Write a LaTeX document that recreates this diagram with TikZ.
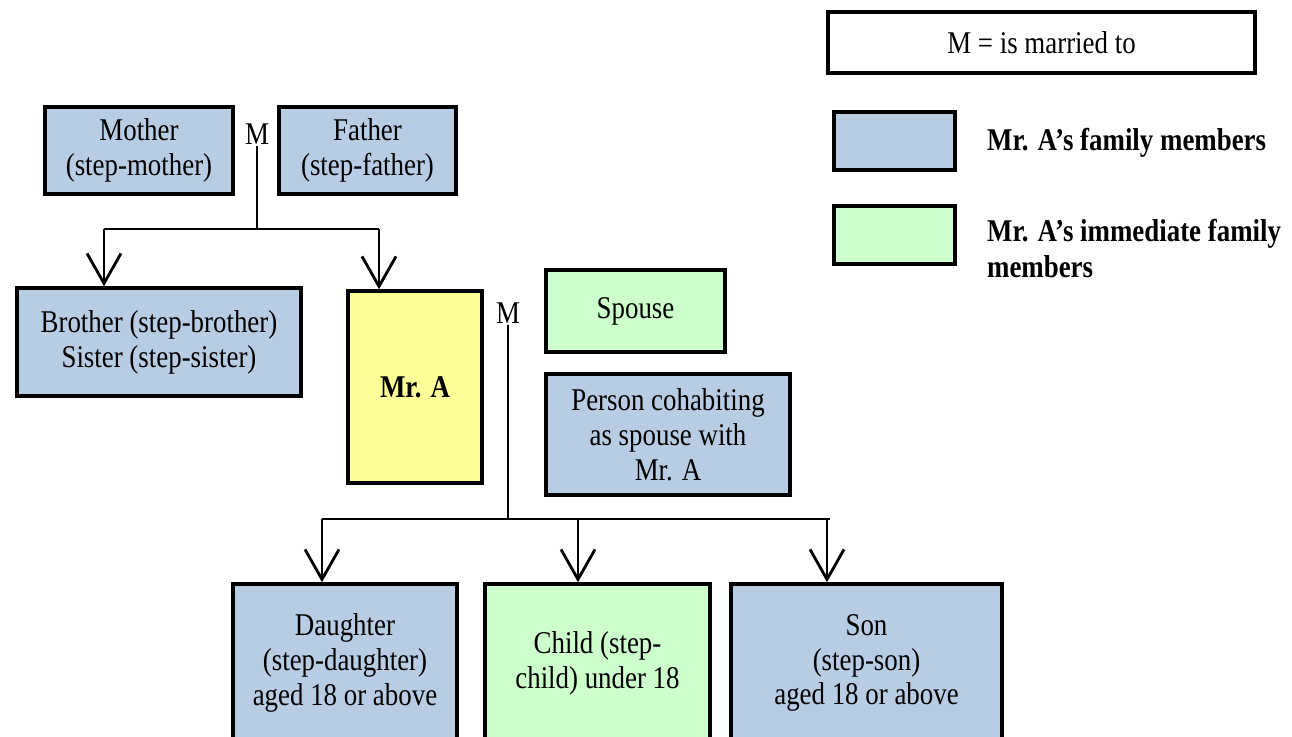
\documentclass[tikz,border=0pt]{standalone}
\usepackage{fontspec}
\setmainfont[FakeStretch=0.85]{Liberation Serif}
\usepackage{xcolor}
\usepackage{tikz}
\usetikzlibrary{arrows.meta,positioning}
\definecolor{famblue}{RGB}{184,204,228}
\definecolor{immgreen}{RGB}{204,255,204}
\definecolor{mryellow}{RGB}{255,255,153}

\begin{document}
\begin{tikzpicture}[
	box/.style={draw,line width=2pt,inner sep=0pt,align=center,font=\fontsize{18}{19.8}\selectfont},
	blue/.style={box,fill=famblue},
	green/.style={box,fill=immgreen},
	lbl/.style={inner sep=1pt,font=\fontsize{18}{19.8}\selectfont},
	link/.style={line width=1.6pt},
	arr/.style={link,-{Straight Barb[length=0.6cm,width=0.68cm,line width=1.6pt]}}]
	\useasboundingbox (0,0) rectangle (25.84,-14.72);
	% legend
	\node[box,minimum width=8.54cm,minimum height=1.22cm] (key) at (20.83,-0.85) {M = is married to};
	\node[blue,minimum width=2.42cm,minimum height=1.16cm] (keyblue) at (17.89,-2.82) {};
	\node[green,minimum width=2.42cm,minimum height=1.16cm] (keygreen) at (17.89,-4.70) {};
	\node[lbl,anchor=west,font=\fontsize{18}{19.8}\selectfont\bfseries] (keybluetxt) at (19.7,-2.86) {Mr. A’s family members};
	\node[lbl,anchor=west,align=left,font=\fontsize{18}{20.5}\selectfont\bfseries] (keygreentxt) at (19.7,-4.98) {Mr. A’s immediate family\\members};
	% parents
	\node[blue,minimum width=3.76cm,minimum height=1.74cm] (mother) at (2.78,-3.01) {Mother\\(step-mother)};
	\node[blue,minimum width=3.54cm,minimum height=1.74cm] (father) at (7.35,-3.01) {Father\\(step-father)};
	\node[lbl] (m1) at (5.14,-2.68) {M};
	% siblings and Mr. A
	\node[blue,minimum width=5.68cm,minimum height=2.16cm] (sibling) at (3.18,-6.84) {Brother (step-brother)\\Sister (step-sister)};
	\node[box,fill=mryellow,minimum width=2.68cm,minimum height=3.84cm,font=\fontsize{18}{19.8}\selectfont\bfseries] (mra) at (8.30,-7.74) {Mr. A};
	\node[lbl] (m2) at (10.16,-6.26) {M};
	\node[green,minimum width=3.58cm,minimum height=1.64cm] (spouse) at (12.71,-6.22) {Spouse};
	\node[blue,minimum width=4.88cm,minimum height=2.42cm] (cohab) at (13.36,-8.69) {Person cohabiting\\as spouse with\\Mr. A};
	% children
	\node[blue,minimum width=4.48cm,minimum height=3.16cm] (daughter) at (6.90,-13.26) {Daughter\\(step-daughter)\\aged 18 or above};
	\node[green,minimum width=4.50cm,minimum height=3.16cm] (child) at (11.95,-13.26) {Child (step-\\child) under 18};
	\node[blue,minimum width=5.42cm,minimum height=3.16cm] (son) at (17.33,-13.26) {Son\\(step-son)\\aged 18 or above};
	% lines
	\coordinate (j1) at (5.14,-4.58);
	\coordinate (j1l) at (2.08,-4.58);
	\coordinate (j1r) at (7.58,-4.58);
	\draw[link] (m1) -- (j1);
	\draw[link] (j1l) -- (j1r);
	\draw[arr] (j1l) -- (j1l |- sibling.north);
	\draw[arr] (j1r) -- (j1r |- mra.north);
	\coordinate (j2) at (10.16,-10.38);
	\coordinate (j2l) at (6.44,-10.38);
	\coordinate (j2m) at (11.56,-10.38);
	\coordinate (j2r) at (16.60,-10.38);
	\draw[link] (m2) -- (j2);
	\draw[link] (j2l) -- (j2r);
	\draw[arr] (j2l) -- (j2l |- daughter.north);
	\draw[arr] (j2m) -- (j2m |- child.north);
	\draw[arr] ([xshift=-0.06cm]j2r) -- ([xshift=-0.06cm]j2r |- son.north);
\end{tikzpicture}
\end{document}
